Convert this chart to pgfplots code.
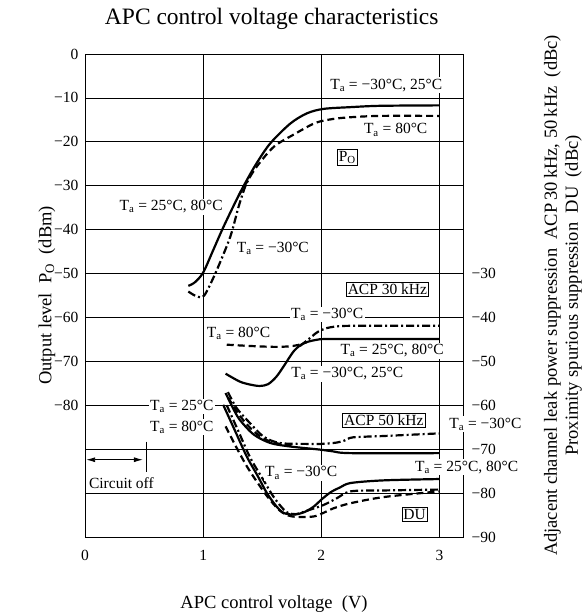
\documentclass[border=0pt]{standalone}
\usepackage{fontspec}
\setmainfont{Liberation Serif}
\usepackage{pgfplots}
\pgfplotsset{compat=1.18}
\usetikzlibrary{arrows.meta}
\newcommand{\Ta}{T\textsubscript{a}}
\newcommand{\fs}{\fontsize{15.5bp}{17bp}\selectfont}
\newcommand{\fl}{\fontsize{18.5bp}{21bp}\selectfont}

\begin{document}
\begin{tikzpicture}
\path[use as bounding box] (-85bp,-79bp) rectangle (502bp,537bp);

\begin{axis}[
    scale only axis,
    width=378bp, height=483bp,
    xmin=0, xmax=3.2, ymin=-110, ymax=0,
    xtick={0,1,2,3}, xticklabels={0,1,2,3},
    ytick={0,-10,-20,-30,-40,-50,-60,-70,-80},
    yticklabels={0,−10,−20,−30,−40,−50,−60,−70,−80},
    extra y ticks={-90,-100}, extra y tick labels={},
    extra y tick style={grid=major},
    grid=major,
    major grid style={black, line width=0.7bp},
    major tick length=0pt,
    tick label style={font=\fs},
    xticklabel style={yshift=-10bp},
    yticklabel style={xshift=-3bp},
    axis line style={line width=0.9bp},
    clip=false,
    every axis plot/.append style={line width=2.2bp, smooth, tension=0.5},
]
% P_O
\addplot[black] coordinates {
    (0.875,-52.8) (0.93,-52.0) (1.0,-49.8) (1.08,-45) (1.16,-40.1) (1.25,-35)
    (1.34,-30.2) (1.45,-25) (1.57,-20.3) (1.74,-15.8) (1.88,-13.5) (2.02,-12.5)
    (2.25,-12.1) (2.5,-11.8) (3.0,-11.7)
};
\addplot[black, dash pattern=on 7bp off 4bp] coordinates {
    (1.30,-32.3) (1.36,-29.6) (1.455,-25.6) (1.6,-21.1) (1.77,-18.3) (1.95,-15.7)
    (2.1,-14.8) (2.25,-14.4) (2.5,-14.1) (3.0,-14.1)
};
\addplot[black, dash pattern=on 8bp off 3bp on 2bp off 3bp] coordinates {
    (0.875,-54.1) (0.93,-55.0) (0.99,-55.4) (1.03,-54.1) (1.116,-49.2) (1.23,-41.6)
    (1.30,-34.8) (1.356,-30.2) (1.40,-27.8)
};
% ACP 30 kHz
\addplot[black] coordinates {
    (1.19,-72.8) (1.31,-74.6) (1.40,-75.3) (1.48,-75.6) (1.55,-75.2) (1.62,-73.5)
    (1.68,-71.2) (1.77,-67.6) (1.85,-65.9) (1.96,-65.1) (2.1,-64.9) (3.0,-64.9)
};
\addplot[black, dash pattern=on 7bp off 4bp] coordinates {
    (1.2,-66.2) (1.4,-66.5) (1.6,-66.7) (1.72,-66.6) (1.8,-66.3) (1.88,-65.6)
};
\addplot[black, dash pattern=on 8bp off 3bp on 2bp off 3bp] coordinates {
    (1.82,-66.5) (1.9,-64.8) (1.97,-63.3) (2.05,-62.4) (2.15,-62.0) (2.3,-61.9) (3.0,-61.9)
};
% ACP 50 kHz
\addplot[black] coordinates {
    (1.19,-77.2) (1.25,-80.5) (1.31,-83.3) (1.43,-86.7) (1.57,-88.6) (1.74,-89.4)
    (1.99,-90.1) (2.1,-90.5) (2.25,-90.9) (3.0,-90.9)
};
\addplot[black, dash pattern=on 8bp off 3bp on 2bp off 3bp] coordinates {
    (1.21,-77) (1.28,-80.5) (1.37,-83.3) (1.51,-87.1) (1.65,-88.6) (1.88,-88.8)
    (2.0,-88.8) (2.13,-88.5) (2.2,-88.0) (2.27,-87.3) (2.53,-87.0) (3.0,-86.4)
};
\addplot[black, dash pattern=on 7bp off 4bp] coordinates {
    (1.21,-78.2) (1.3,-82) (1.4,-85.2) (1.5,-87.4) (1.6,-88.5) (1.75,-89.3)
};
% DU
\addplot[black] coordinates {
    (1.17,-79.9) (1.27,-85.8) (1.37,-91.7) (1.46,-96) (1.54,-100) (1.62,-103)
    (1.68,-104.5) (1.77,-104.9) (1.86,-104.3) (1.94,-103) (2.0,-101.5) (2.08,-99.8)
    (2.16,-98.7) (2.25,-97.7) (2.53,-97.1) (3.0,-96.8)
};
\addplot[black, dash pattern=on 8bp off 3bp on 2bp off 3bp] coordinates {
    (1.20,-80) (1.3,-86) (1.4,-92) (1.51,-97) (1.6,-101) (1.7,-104.2) (1.78,-104.8)
    (1.88,-104) (2.02,-102.7) (2.13,-101.2) (2.25,-99.6) (2.53,-99.4) (3.0,-99.2)
};
\addplot[black, dash pattern=on 7bp off 4bp] coordinates {
    (1.19,-84.8) (1.28,-89.5) (1.37,-93.9) (1.46,-97.6) (1.55,-101) (1.65,-104)
    (1.75,-105.3) (1.94,-105.3) (2.1,-103.5) (2.25,-102.3) (2.53,-100.9) (3.0,-99.6)
};

% annotations
\begin{scope}[every node/.style={font=\fs, fill=white, inner sep=1.5bp}]
\node at (axis cs:2.55,-7.1) {\Ta\ = −30°C, 25°C};
\node at (axis cs:2.63,-17.3) {\Ta\ = 80°C};
\node[draw, line width=0.6bp] at (axis cs:2.22,-23.5) {P\textsubscript{O}};
\node at (axis cs:0.73,-34.8) {\Ta\ = 25°C, 80°C};
\node at (axis cs:1.59,-44.2) {\Ta\ = −30°C};
\node[draw, line width=0.6bp] at (axis cs:2.56,-53.6) {ACP 30 kHz};
\node at (axis cs:2.05,-59.3) {\Ta\ = −30°C};
\node at (axis cs:1.30,-63.7) {\Ta\ = 80°C};
\node at (axis cs:2.6,-67.6) {\Ta\ = 25°C, 80°C};
\node at (axis cs:2.22,-72.8) {\Ta\ = −30°C, 25°C};
\node at (axis cs:0.82,-80.3) {\Ta\ = 25°C};
\node at (axis cs:0.82,-85) {\Ta\ = 80°C};
\node[draw, line width=0.6bp] at (axis cs:2.53,-83.5) {ACP 50 kHz};
\node[anchor=west] at (axis cs:3.07,-84.3) {\Ta\ = −30°C};
\node[anchor=west] at (axis cs:2.78,-94.1) {\Ta\ = 25°C, 80°C};
\node at (axis cs:1.83,-95.4) {\Ta\ = −30°C};
\node[draw, line width=0.6bp] at (axis cs:2.79,-104.8) {DU};
\node[anchor=west, fill=none] at (axis cs:0.02,-97.7) {Circuit off};
\end{scope}
\draw[{Latex[length=9bp,width=5bp]}-{Latex[length=9bp,width=5bp]}, line width=0.9bp]
    (axis cs:0.01,-92.4) -- (axis cs:0.49,-92.4);
\draw[line width=0.9bp] (axis cs:0.52,-88.3) -- (axis cs:0.52,-95.1);
\end{axis}

\begin{axis}[
    scale only axis,
    width=378bp, height=483bp,
    xmin=0, xmax=3.2, ymin=-90, ymax=20,
    hide x axis,
    axis y line*=right,
    axis line style={draw=none},
    ytick={-30,-40,-50,-60,-70,-80,-90},
    yticklabels={−30,−40,−50,−60,−70,−80,−90},
    major tick length=0pt,
    tick label style={font=\fs},
    yticklabel style={xshift=5bp},
]
\end{axis}

\node[font=\fontsize{23.5bp}{26bp}\selectfont, anchor=base] at (186.7bp,512bp) {APC control voltage characteristics};
\node[font=\fl, anchor=base] at (189bp,-71bp) {APC control voltage\ \ (V)};
\node[font=\fl, rotate=90] at (-38bp,241.5bp) {Output level\ \ P\textsubscript{O}\ \ (dBm)};
\node[font=\fl, rotate=90, align=center, inner sep=0pt] at (478bp,241.5bp)
    {Adjacent channel leak power suppression\ \ ACP\,30\,kHz, 50\,kHz\ \ (dBc)\\
     Proximity spurious suppression\ \ DU\ \ (dBc)};
\end{tikzpicture}
\end{document}
